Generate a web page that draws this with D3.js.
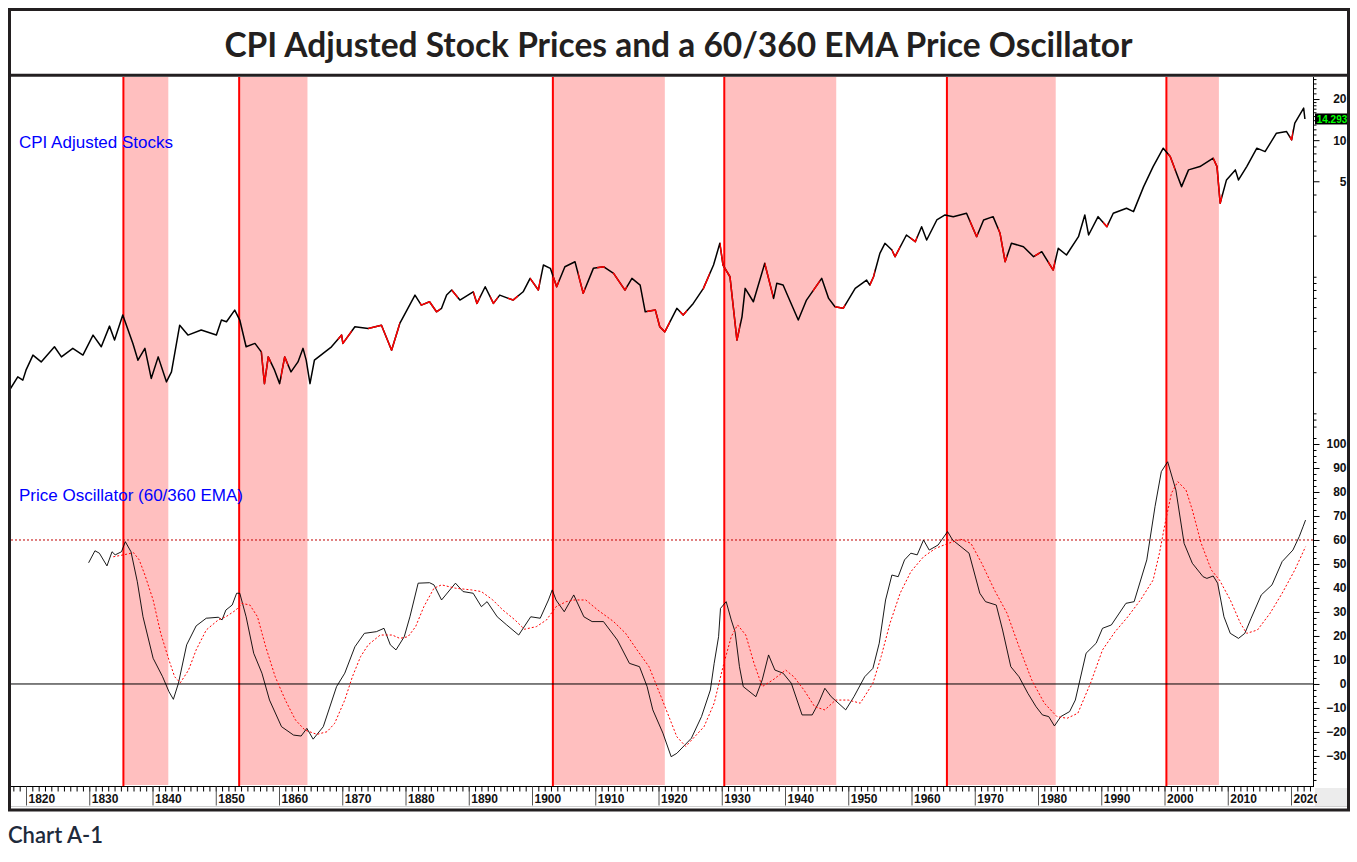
<!DOCTYPE html>
<html><head><meta charset="utf-8">
<script src="https://cdn.jsdelivr.net/npm/d3@7"></script>
<style>body{margin:0;background:#fff}</style>
</head><body>
<svg id="c" width="1357" height="862"></svg>
<script>
const chartTitle = "CPI Adjusted Stock Prices and a 60/360 EMA Price Oscillator";
const chartCaption = "Chart A-1";
const priceLabel = "CPI Adjusted Stocks";
const oscLabel = "Price Oscillator (60/360 EMA)";
const lastValueLabel = "14.293";

const priceYears = [1817.4,1818.7,1819.5,1820.0,1821.1,1822.4,1824.5,1825.6,1827.4,1829.0,
1830.6,1831.9,1833.2,1834.0,1835.3,1836.9,1837.7,1838.8,1839.8,1840.9,
1842.2,1843.0,1844.3,1845.6,1847.7,1850.1,1850.9,1851.7,1853.0,1853.8,
1854.8,1856.2,1857.2,1857.7,1858.3,1859.3,1860.1,1860.9,1861.9,1863.0,
1863.8,1864.3,1864.9,1865.6,1868.3,1869.9,1870.1,1872.0,1874.1,1876.2,
1877.8,1879.1,1881.5,1882.5,1883.8,1884.9,1885.7,1886.5,1887.3,1888.6,
1890.7,1891.3,1892.6,1893.9,1894.9,1897.0,1898.6,1899.7,1901.0,1901.8,
1902.9,1903.9,1905.2,1906.8,1908.1,1909.7,1911.3,1912.9,1914.7,1915.8,
1917.1,1917.9,1919.5,1920.2,1921.0,1922.9,1923.9,1925.5,1927.1,1928.7,
1929.7,1930.2,1931.3,1932.4,1933.2,1933.7,1935.0,1936.8,1938.2,1938.7,
1939.7,1940.5,1942.1,1943.4,1945.8,1946.9,1947.9,1949.2,1951.1,1952.9,
1953.4,1954.0,1955.0,1955.8,1956.9,1957.4,1959.2,1960.6,1961.6,1962.4,
1964.0,1965.3,1966.6,1968.7,1970.3,1971.4,1972.9,1974.0,1974.8,1975.8,
1977.7,1979.3,1980.6,1982.4,1983.2,1984.5,1986.4,1987.4,1988.0,1989.5,
1990.9,1991.9,1994.0,1995.1,1996.7,1998.2,1999.8,2000.9,2001.7,2002.7,
2003.8,2005.6,2007.7,2008.3,2008.8,2009.8,2011.2,2011.7,2013.0,2014.6,
2015.9,2017.7,2019.3,2020.1,2020.6,2022.0,2022.2];
const priceValues = [0.148,0.185,0.175,0.207,0.267,0.238,0.307,0.259,0.299,0.267,
0.374,0.307,0.435,0.344,0.524,0.325,0.245,0.299,0.180,0.259,
0.170,0.201,0.442,0.374,0.407,0.374,0.482,0.468,0.570,0.482,
0.307,0.325,0.282,0.165,0.259,0.207,0.165,0.259,0.201,0.238,
0.299,0.245,0.165,0.245,0.307,0.374,0.325,0.430,0.418,0.442,
0.290,0.455,0.734,0.620,0.656,0.554,0.587,0.734,0.799,0.675,
0.776,0.638,0.845,0.638,0.734,0.675,0.776,0.973,0.799,1.218,
1.152,0.845,1.184,1.288,0.756,1.152,1.184,1.059,0.799,0.973,
0.869,0.554,0.570,0.430,0.395,0.587,0.524,0.638,0.822,1.218,
1.757,1.218,1.000,0.344,0.509,0.822,0.656,1.254,0.694,0.895,
0.869,0.714,0.482,0.675,0.973,0.694,0.603,0.587,0.822,0.946,
0.869,1.000,1.484,1.757,1.569,1.402,2.022,1.806,2.326,1.858,
2.604,2.833,2.754,2.916,1.965,2.604,2.754,2.080,1.288,1.757,
1.660,1.402,1.525,1.120,1.615,1.443,1.965,2.833,2.022,2.754,
2.326,2.916,3.173,2.996,4.569,6.405,8.737,7.581,6.057,4.569,
6.057,6.405,7.379,6.405,3.452,5.116,6.057,5.116,6.405,8.737,
8.250,11.25,11.56,10.05,13.32,17.16,14.293];

const oscYears = [1829.9,1830.9,1831.6,1832.8,1833.6,1834.1,1835.1,1835.7,1836.6,1837.6,
1838.5,1840.1,1841.6,1842.6,1843.3,1844.1,1845.4,1846.9,1848.5,1850.4,
1851.0,1851.6,1852.6,1853.3,1853.8,1854.8,1856.0,1857.3,1858.5,1860.4,
1862.3,1863.5,1864.4,1865.4,1867.0,1869.1,1870.4,1872.0,1873.5,1875.4,
1876.6,1877.6,1878.5,1879.8,1880.7,1882.0,1883.8,1884.5,1885.7,1887.9,
1889.1,1890.7,1892.0,1892.9,1894.5,1896.0,1897.9,1899.8,1901.3,1902.6,
1903.2,1903.8,1905.1,1906.6,1908.2,1909.5,1911.3,1913.5,1915.4,1917.0,
1918.2,1919.1,1920.7,1922.0,1922.9,1925.2,1926.8,1928.2,1928.8,1929.5,
1929.8,1930.7,1931.5,1932.1,1932.8,1933.4,1935.4,1936.4,1937.4,1938.4,
1939.7,1941.0,1942.7,1944.3,1945.3,1946.3,1947.3,1949.6,1950.9,1952.6,
1953.9,1954.9,1955.9,1956.9,1957.9,1958.9,1959.9,1960.9,1961.9,1962.8,
1964.2,1965.7,1966.5,1969.1,1970.8,1971.7,1973.4,1974.4,1975.7,1977.0,
1978.4,1979.7,1980.7,1981.7,1982.6,1983.6,1985.0,1985.9,1987.6,1989.2,
1990.2,1991.6,1993.9,1995.2,1997.2,1998.5,1999.5,2000.5,2001.8,2003.1,
2004.4,2006.1,2006.7,2007.7,2008.4,2009.4,2010.4,2011.7,2012.7,2013.7,
2015.3,2017.0,2018.6,2020.3,2021.3,2021.9,2022.3];
const oscValues = [50.5,55.5,54.5,49.2,55.1,53.8,55.1,59.3,55.1,42.6,
28.0,10.7,3.0,-3.2,-6.4,0.3,16.3,24.2,27.4,27.8,
26.7,30.8,32.9,37.8,37.8,28.0,12.8,4.5,-6.7,-17.8,
-21.3,-21.7,-18.5,-23.0,-17.8,-1.1,4.5,15.5,21.1,21.8,
23.2,16.3,14.2,19.7,28.0,42.0,42.2,41.3,35.0,42.0,
38.5,37.8,32.2,34.3,28.0,24.6,20.4,28.0,27.4,35.0,
39.2,35.0,30.1,37.1,28.0,26.0,26.0,18.3,8.6,7.2,
-1.1,-10.8,-20.5,-30.3,-28.9,-22.6,-13.6,-2.5,8.6,19.7,
31.5,34.3,26.7,21.8,7.2,-1.1,-5.3,1.7,12.1,5.8,
4.5,0.3,-12.9,-12.9,-8.0,-1.8,-5.3,-10.8,-5.3,3.0,
6.5,17.0,35.0,45.4,44.7,51.7,54.5,53.8,60.0,55.8,
57.9,63.5,60.0,54.5,37.8,34.3,32.9,22.5,7.2,3.0,
-3.9,-9.5,-12.9,-13.6,-17.5,-13.6,-11.5,-6.7,12.8,17.0,
23.2,24.6,33.6,34.3,51.7,73.9,88.5,92.6,80.8,58.6,
50.3,44.7,44.0,45.0,42.0,28.0,21.1,19.0,21.1,27.4,
37.1,41.3,51.0,55.8,61.4,65.5,68.3];

const sigYears = [1833.8,1835.4,1837.0,1837.9,1838.8,1840.1,1841.3,1842.6,1843.5,1844.4,
1845.7,1846.9,1848.5,1850.4,1851.6,1853.2,1854.1,1855.4,1856.6,1857.9,
1859.4,1861.0,1862.6,1864.1,1866.0,1867.6,1868.8,1870.4,1871.6,1872.9,
1874.1,1876.0,1877.9,1879.1,1880.4,1881.6,1882.9,1884.5,1885.7,1887.9,
1890.4,1892.0,1893.8,1895.4,1897.3,1898.8,1900.7,1902.3,1903.8,1905.4,
1906.6,1908.5,1910.4,1912.9,1914.8,1916.6,1918.5,1920.4,1922.9,1924.3,
1927.2,1928.8,1930.2,1931.5,1932.5,1933.8,1935.1,1936.4,1938.1,1940.1,
1941.4,1943.0,1944.7,1946.3,1948.0,1950.0,1951.9,1953.9,1955.2,1956.6,
1958.2,1959.9,1961.9,1963.8,1965.8,1967.8,1969.4,1971.1,1973.1,1975.1,
1977.0,1979.0,1981.0,1983.0,1984.6,1986.3,1988.3,1990.2,1992.2,1994.2,
1996.2,1998.2,1999.2,2000.1,2001.1,2002.1,2003.4,2004.4,2005.8,2007.4,
2008.7,2010.4,2012.0,2013.0,2014.7,2016.7,2018.6,2020.6,2022.3];
const sigValues = [53.0,53.8,54.7,51.7,45.4,35.0,21.1,10.0,3.0,0.5,
5.8,14.2,22.5,26.7,28.0,30.8,33.6,32.9,28.0,15.5,
3.0,-6.7,-15.0,-19.2,-21.0,-19.9,-16.4,-6.7,3.0,11.4,
16.3,20.4,20.4,19.0,19.7,23.9,32.2,39.9,41.3,39.9,
39.2,38.5,35.0,30.8,26.7,22.8,23.9,26.7,32.2,34.3,
35.0,35.0,30.8,26.0,21.1,14.2,7.2,-5.3,-22.0,-26.0,
-17.8,-8.0,7.2,19.7,24.6,20.4,8.6,-1.1,1.7,5.8,
3.0,-2.5,-9.5,-10.8,-6.7,-6.7,-8.0,0.3,11.4,25.3,
37.8,46.8,53.0,56.5,58.6,60.3,58.6,50.3,39.2,29.5,
15.5,1.7,-8.0,-13.6,-14.3,-12.2,0.3,14.2,21.8,28.0,
35.0,43.3,54.5,67.0,79.5,84.3,80.8,72.5,58.6,47.5,
43.3,35.0,25.3,21.1,22.5,29.5,37.8,47.5,57.2];

// shaded (bearish) periods, in years
const shadeStart = [1835.4,1853.7,1903.3,1930.4,1965.6,2000.3];
const shadeEnd   = [1842.5,1864.5,1921.0,1948.1,1982.8,2008.6];
// periods where the price line is drawn red
const redStart = [1857.2,1860.3,1869.3,1874.1,1882.3,1887.3,1890.7,1893.4,1896.2,1899.7,1903.3,1907.3,1910.3,1912.8,1918.2,1923.4,1927.0,1929.7,1936.8,1944.4,1947.9,1953.4,1956.9,1959.8,1969.2,1973.7,1979.5,1981.6,1990.3,2000.6,2007.7,2019.8];
const redEnd   = [1858.7,1861.4,1871.5,1879.1,1885.5,1888.3,1891.8,1894.6,1897.8,1901.3,1904.3,1908.4,1911.5,1915.0,1921.8,1924.5,1928.1,1932.9,1938.1,1945.5,1949.5,1954.2,1958.2,1960.9,1970.5,1975.1,1980.3,1982.7,1991.1,2001.7,2009.1,2020.3];

const xTickYears = [1820,1830,1840,1850,1860,1870,1880,1890,1900,1910,1920,1930,1940,1950,1960,1970,1980,1990,2000,2010,2020];
const priceTicks = [5,10,20];
const priceMinorTicks = [0.08,0.09,0.1,0.2,0.3,0.4,0.5,0.6,0.7,0.8,0.9,1,2,3,4,6,7,8,9,11,12,13,14,15,16,17,18,19,22,24,26,28];
const oscTicks = [-30,-20,-10,0,10,20,30,40,50,60,70,80,90,100];
const oscRefLevels = [0, 60];

const svg = d3.select("#c");
const plotL = 11, plotR = 1313, plotT = 77, plotB = 786;

const x = d3.scaleLinear().domain([1820, 2020]).range([26, 1291]);
const yPrice = d3.scaleLog().domain([0.073, 29]).range([432, 77]);
const yOsc = d3.scaleLinear().domain([-42.1, 100]).range([785, 444]);

svg.append("rect").attr("width", 1357).attr("height", 862).attr("fill", "#fff");

const defs = svg.append("defs");
defs.append("clipPath").attr("id", "plotClip").append("rect")
  .attr("x", plotL).attr("y", plotT).attr("width", plotR - plotL).attr("height", plotB - plotT);
const redClip = defs.append("clipPath").attr("id", "redClip");
redStart.forEach((s, i) => {
  redClip.append("rect").attr("x", x(s)).attr("y", 0)
    .attr("width", x(redEnd[i]) - x(s)).attr("height", 862);
});
defs.append("clipPath").attr("id", "xlabClip").append("rect")
  .attr("x", plotL).attr("y", -5).attr("width", plotR - plotL + 4).attr("height", 30);

const plot = svg.append("g").attr("clip-path", "url(#plotClip)");

// shading
plot.selectAll("rect.shade").data(shadeStart).join("rect").attr("class", "shade")
  .attr("x", d => x(d)).attr("y", plotT)
  .attr("width", (d, i) => x(shadeEnd[i]) - x(d)).attr("height", plotB - plotT - 1)
  .attr("fill", "#ffbfbf");
plot.selectAll("line.peak").data(shadeStart).join("line").attr("class", "peak")
  .attr("x1", d => x(d)).attr("x2", d => x(d)).attr("y1", plotT).attr("y2", plotB)
  .attr("stroke", "#ff0000").attr("stroke-width", 2);

// reference lines
plot.append("line").attr("x1", plotL).attr("x2", plotR)
  .attr("y1", yOsc(oscRefLevels[0])).attr("y2", yOsc(oscRefLevels[0]))
  .attr("stroke", "#000").attr("stroke-width", 1);
plot.append("line").attr("x1", plotL).attr("x2", plotR)
  .attr("y1", yOsc(oscRefLevels[1])).attr("y2", yOsc(oscRefLevels[1]))
  .attr("stroke", "#c00000").attr("stroke-width", 1).attr("stroke-dasharray", "2,2");

// oscillator
const oscLine = d3.line().x(d => x(d[0])).y(d => yOsc(d[1]));
plot.append("path").datum(oscYears.map((y, i) => [y, oscValues[i]]))
  .attr("d", oscLine).attr("fill", "none").attr("stroke", "#000").attr("stroke-width", 0.9);
plot.append("path").datum(sigYears.map((y, i) => [y, sigValues[i]]))
  .attr("d", oscLine).attr("fill", "none").attr("stroke", "#ff0000").attr("stroke-width", 1)
  .attr("stroke-dasharray", "2,2");

// price
const priceData = priceYears.map((y, i) => [y, priceValues[i]]);
const priceLine = d3.line().x(d => x(d[0])).y(d => yPrice(d[1]));
plot.append("path").datum(priceData).attr("d", priceLine)
  .attr("fill", "none").attr("stroke", "#000").attr("stroke-width", 1.5).attr("stroke-linejoin", "round");
plot.append("g").attr("clip-path", "url(#redClip)").append("path").datum(priceData).attr("d", priceLine)
  .attr("fill", "none").attr("stroke", "#ff0000").attr("stroke-width", 1.5).attr("stroke-linejoin", "round");

// panel labels
svg.append("text").attr("x", 19).attr("y", 148).text(priceLabel)
  .attr("font-family", "Liberation Sans, Arial, sans-serif").attr("font-size", 17).attr("fill", "#0000ff");
svg.append("text").attr("x", 19).attr("y", 501).text(oscLabel)
  .attr("font-family", "Liberation Sans, Arial, sans-serif").attr("font-size", 17).attr("fill", "#0000ff");

// right axis
const axFont = "Liberation Sans, Arial, sans-serif";
svg.append("line").attr("x1", plotR + 0.5).attr("x2", plotR + 0.5).attr("y1", plotT).attr("y2", plotB)
  .attr("stroke", "#000");
function styleRight(g, labels) {
  g.select(".domain").remove();
  g.selectAll(".tick line").attr("stroke", "#000");
  if (labels) {
    g.selectAll(".tick text").attr("x", 33).attr("text-anchor", "end")
      .attr("font-family", axFont).attr("font-weight", "bold").attr("font-size", 12).attr("fill", "#111");
  } else g.selectAll(".tick text").remove();
}
svg.append("g").attr("transform", `translate(${plotR + 0.5},0)`)
  .call(d3.axisRight(yPrice).tickValues(priceMinorTicks).tickSize(3).tickFormat(""))
  .call(g => styleRight(g, false));
svg.append("g").attr("transform", `translate(${plotR + 0.5},0)`)
  .call(d3.axisRight(yPrice).tickValues(priceTicks).tickSize(6).tickFormat(d3.format("d")))
  .call(g => styleRight(g, true));
svg.append("g").attr("transform", `translate(${plotR + 0.5},0)`)
  .call(d3.axisRight(yOsc).tickValues(d3.range(-40, 105, 2.5)).tickSize(3).tickFormat(""))
  .call(g => styleRight(g, false));
svg.append("g").attr("transform", `translate(${plotR + 0.5},0)`)
  .call(d3.axisRight(yOsc).tickValues(oscTicks).tickSize(6).tickFormat(d3.format("d")))
  .call(g => styleRight(g, true));

// last value box
const lastY = yPrice(priceValues[priceValues.length - 1]);
svg.append("rect").attr("x", plotR + 2).attr("y", lastY - 5.5).attr("width", 34).attr("height", 11).attr("fill", "#000");
svg.append("text").attr("x", plotR + 19).attr("y", lastY + 3.8).attr("text-anchor", "middle")
  .attr("font-family", axFont).attr("font-weight", "bold").attr("font-size", 10).attr("fill", "#00ff00")
  .text(lastValueLabel);

// x axis strip
svg.append("rect").attr("x", plotR + 2).attr("y", plotB + 2).attr("width", 1347 - plotR - 2).attr("height", 18)
  .attr("fill", "#ececec");
svg.append("line").attr("x1", plotL).attr("x2", plotR + 1).attr("y1", plotB + 0.5).attr("y2", plotB + 0.5).attr("stroke", "#000");
svg.append("line").attr("x1", plotL).attr("x2", 1347).attr("y1", 806.5).attr("y2", 806.5).attr("stroke", "#cfcfcf");
const xg = svg.append("g").attr("transform", `translate(0,${plotB + 0.5})`).attr("clip-path", "url(#xlabClip)");
xg.append("g").call(d3.axisBottom(x).tickValues(d3.range(1818, 2024, 1)).tickSize(5).tickFormat(""))
  .call(g => { g.select(".domain").remove(); g.selectAll(".tick line").attr("stroke", "#000"); });
xg.append("g").call(d3.axisBottom(x).tickValues(xTickYears).tickSize(19).tickFormat(d3.format("d")))
  .call(g => {
    g.select(".domain").remove();
    g.selectAll(".tick line").attr("stroke", "#555");
    g.selectAll(".tick text").attr("x", 2).attr("y", 16.5).attr("dy", 0).attr("text-anchor", "start")
      .attr("font-family", axFont).attr("font-weight", "bold").attr("font-size", 12).attr("fill", "#111");
  });

// frame and title
svg.append("rect").attr("x", 9.5).attr("y", 9.5).attr("width", 1339).attr("height", 800.5)
  .attr("fill", "none").attr("stroke", "#231f20").attr("stroke-width", 3);
svg.append("line").attr("x1", 9.5).attr("x2", 1348.5).attr("y1", 75.3).attr("y2", 75.3)
  .attr("stroke", "#231f20").attr("stroke-width", 3);
svg.append("text").attr("x", 678.5).attr("y", 56.5).attr("text-anchor", "middle")
  .attr("font-family", "Lato, sans-serif").attr("font-weight", 700).attr("font-size", 33.5)
  .attr("fill", "#231f20").text(chartTitle);
svg.append("text").attr("x", 8).attr("y", 843)
  .attr("font-family", "Lato, sans-serif").attr("font-weight", 600).attr("font-size", 22)
  .attr("fill", "#1e2a3b").text(chartCaption);
</script>
</body></html>
